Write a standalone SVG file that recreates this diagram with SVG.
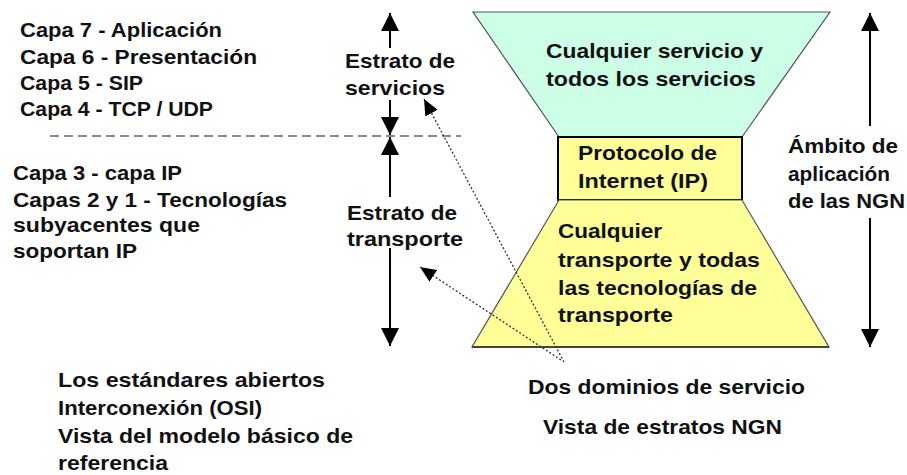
<svg xmlns="http://www.w3.org/2000/svg" width="907" height="475" viewBox="0 0 907 475">
<style>
text{font-family:"Liberation Sans",Arial,sans-serif;font-weight:bold;font-size:21px;fill:#111}
.axis{stroke:#000;stroke-width:2;fill:none}
.dot{stroke:#333;stroke-width:1.3;stroke-dasharray:2 2;fill:none}
.dash{stroke:#8a8a8a;stroke-width:2;stroke-dasharray:9 5;fill:none}
</style>
<defs>
<marker id="ah" markerUnits="userSpaceOnUse" markerWidth="18" markerHeight="18" viewBox="0 0 18 18" refX="18" refY="9" orient="auto">
<path d="M0,0 L18,9 L0,18 Z" fill="#000"/>
</marker>
<marker id="ahs" markerUnits="userSpaceOnUse" markerWidth="16" markerHeight="14" viewBox="0 0 16 14" refX="16" refY="7" orient="auto">
<path d="M0,0 L16,7 L0,14 Z" fill="#000"/>
</marker>
</defs>
<g id="osi-upper">
<text x="20" y="37" textLength="202" lengthAdjust="spacingAndGlyphs">Capa 7 - Aplicación</text>
<text x="20" y="64" textLength="237" lengthAdjust="spacingAndGlyphs">Capa 6 - Presentación</text>
<text x="20" y="90" textLength="123" lengthAdjust="spacingAndGlyphs">Capa 5 - SIP</text>
<text x="20" y="116" textLength="193" lengthAdjust="spacingAndGlyphs">Capa 4 - TCP / UDP</text>
</g>
<g id="osi-lower">
<text x="13" y="180" textLength="169" lengthAdjust="spacingAndGlyphs">Capa 3 - capa IP</text>
<text x="13" y="207" textLength="274" lengthAdjust="spacingAndGlyphs">Capas 2 y 1 - Tecnologías</text>
<text x="13" y="232" textLength="187" lengthAdjust="spacingAndGlyphs">subyacentes que</text>
<text x="13" y="258" textLength="124" lengthAdjust="spacingAndGlyphs">soportan IP</text>
</g>
<g id="divider">
<line class="dash" x1="50" y1="136" x2="461" y2="136"/>
</g>
<g id="stratum-services">
<text x="345" y="68" textLength="110" lengthAdjust="spacingAndGlyphs">Estrato de</text>
<text x="345" y="95" textLength="100" lengthAdjust="spacingAndGlyphs">servicios</text>
</g>
<g id="stratum-transport">
<text x="347" y="220" textLength="110" lengthAdjust="spacingAndGlyphs">Estrato de</text>
<text x="347" y="246" textLength="116" lengthAdjust="spacingAndGlyphs">transporte</text>
</g>
<g id="services-trapezoid">
<polygon points="473,12 830,12 742,137 559,137" fill="#ccffe6" stroke="#555" stroke-width="1.2"/>
<text x="546" y="58" textLength="217" lengthAdjust="spacingAndGlyphs">Cualquier servicio y</text>
<text x="546" y="86" textLength="210" lengthAdjust="spacingAndGlyphs">todos los servicios</text>
</g>
<g id="ip-box">
<rect x="558" y="137" width="184" height="63" fill="#ffff99" stroke="#000" stroke-width="2"/>
<text x="578" y="160" textLength="139" lengthAdjust="spacingAndGlyphs">Protocolo de</text>
<text x="578" y="188" textLength="130" lengthAdjust="spacingAndGlyphs">Internet (IP)</text>
</g>
<g id="transport-trapezoid">
<polygon points="559,200 742,200 829,347 472,347" fill="#ffff99" stroke="#555" stroke-width="1.2"/>
<line x1="472" y1="347" x2="829" y2="347" stroke="#444" stroke-width="2"/>
<text x="558" y="238" textLength="104" lengthAdjust="spacingAndGlyphs">Cualquier</text>
<text x="558" y="267" textLength="202" lengthAdjust="spacingAndGlyphs">transporte y todas</text>
<text x="558" y="295" textLength="199" lengthAdjust="spacingAndGlyphs">las tecnologías de</text>
<text x="558" y="322" textLength="115" lengthAdjust="spacingAndGlyphs">transporte</text>
</g>
<g id="ngn-scope">
<text x="788" y="153" textLength="110" lengthAdjust="spacingAndGlyphs">Ámbito de</text>
<text x="788" y="181" textLength="102" lengthAdjust="spacingAndGlyphs">aplicación</text>
<text x="788" y="208" textLength="117" lengthAdjust="spacingAndGlyphs">de las NGN</text>
</g>
<g id="osi-caption">
<text x="58" y="387" textLength="267" lengthAdjust="spacingAndGlyphs">Los estándares abiertos</text>
<text x="58" y="415" textLength="204" lengthAdjust="spacingAndGlyphs">Interconexión (OSI)</text>
<text x="58" y="443" textLength="295" lengthAdjust="spacingAndGlyphs">Vista del modelo básico de</text>
<text x="58" y="470" textLength="110" lengthAdjust="spacingAndGlyphs">referencia</text>
</g>
<g id="domains-caption">
<text x="528" y="394" textLength="277" lengthAdjust="spacingAndGlyphs">Dos dominios de servicio</text>
</g>
<g id="ngn-caption">
<text x="543" y="434" textLength="239" lengthAdjust="spacingAndGlyphs">Vista de estratos NGN</text>
</g>
<g id="connectors">
<line class="axis" x1="390" y1="48" x2="390" y2="13" marker-end="url(#ah)"/>
<line class="axis" x1="390" y1="100" x2="390" y2="135" marker-end="url(#ah)"/>
<line class="axis" x1="390" y1="197" x2="390" y2="137" marker-end="url(#ah)"/>
<line class="axis" x1="390" y1="248" x2="390" y2="346" marker-end="url(#ah)"/>
<line class="axis" x1="870" y1="126" x2="870" y2="13" marker-end="url(#ah)"/>
<line class="axis" x1="870" y1="218" x2="870" y2="347" marker-end="url(#ah)"/>
<line class="dot" x1="564" y1="362" x2="424" y2="99" marker-end="url(#ahs)"/>
<line class="dot" x1="561" y1="360" x2="420" y2="267" marker-end="url(#ahs)"/>
</g>
</svg>
